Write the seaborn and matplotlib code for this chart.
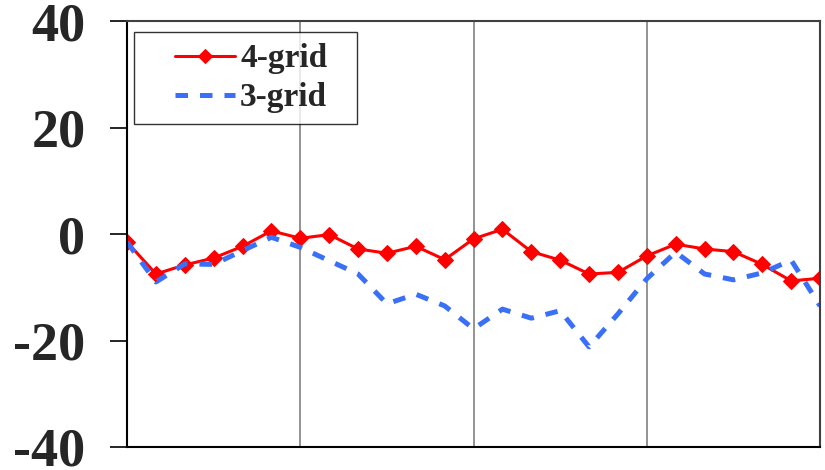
import numpy as np
import pandas as pd
import matplotlib
matplotlib.use("Agg")
import matplotlib.pyplot as plt
from matplotlib.legend_handler import HandlerLine2D
import seaborn as sns

x_index = list(range(25))
grid4 = [-1.5, -7.5, -5.8, -4.5, -2.3, 0.6, -0.8, -0.1, -2.8, -3.6, -2.3, -4.8,
         -0.9, 0.9, -3.3, -4.9, -7.5, -7.2, -4.1, -1.9, -2.8, -3.3, -5.7, -8.8, -8.3]
grid3 = [-1.5, -9.0, -5.6, -5.7, -3.1, -0.6, -2.5, -5.0, -7.5, -13.1, -11.3, -13.5,
         -17.8, -14.1, -15.8, -14.4, -21.2, -15.0, -8.4, -3.4, -7.5, -8.6, -7.3, -4.9, -13.5]
y_ticks = [-40, -20, 0, 20, 40]
x_grid = [0, 6, 12, 18, 24]

sns.set_theme(style="white")
plt.rcParams['font.family'] = ['Liberation Serif', 'DejaVu Serif']
plt.rcParams['axes.unicode_minus'] = False


class ShiftedLineHandler(HandlerLine2D):
    """Draw the legend sample only in the right part of the handle box."""
    frac = 0.33

    def create_artists(self, legend, orig_handle, xdescent, ydescent, width, height,
                       fontsize, trans):
        artists = super().create_artists(legend, orig_handle, xdescent, ydescent, width,
                                         height, fontsize, trans)
        for a in artists:
            xd = np.asarray(a.get_xdata(), dtype=float)
            a.set_xdata(self.frac * width + (1 - self.frac) * xd)
        return artists


df = pd.DataFrame({"x": x_index, "4-grid": grid4, "3-grid": grid3})

fig = plt.figure(figsize=(8.25, 4.7), dpi=100)
ax = fig.add_axes([0.154, 0.049, 0.840, 0.906])

sns.lineplot(data=df, x="x", y="4-grid", ax=ax, color="#ff0000", linewidth=2.2,
             marker="D", markersize=8, markeredgecolor="#ff0000", label="4-grid")
sns.lineplot(data=df, x="x", y="3-grid", ax=ax, color="#3a6ff7", linewidth=3.6,
             linestyle=(0, (2.5, 2.4)), label="3-grid")

ax.set_xlim(0, 24)
ax.set_ylim(-40, 40)
ax.set_yticks(y_ticks)
ax.set_yticklabels([str(v) for v in y_ticks], fontsize=39, fontweight="bold")
ax.set_xticks(x_grid)
ax.set_xticklabels([])
ax.tick_params(axis="x", length=0)
ax.tick_params(axis="y", direction="out", length=12, width=1.2, color="black", left=True, pad=18)
ax.set_xlabel("")
ax.set_ylabel("")
for xv in x_grid[1:-1]:
    ax.axvline(xv, color="#808080", linewidth=1.2, zorder=0)
for s in ["left", "bottom"]:
    ax.spines[s].set_color("black")
    ax.spines[s].set_linewidth(1.5)
for s in ["top", "right"]:
    ax.spines[s].set_color("#404040")
    ax.spines[s].set_linewidth(1.5)

handles, labels = ax.get_legend_handles_labels()
leg = ax.legend(handles, labels, loc="upper left", bbox_to_anchor=(0.0101, 0.5, 0.322, 0.474),
                mode="expand", frameon=True, fancybox=False,
                prop={"size": 24, "weight": "bold"}, handlelength=2.7, handletextpad=0.15,
                borderpad=0.33, labelspacing=0.24, borderaxespad=0,
                handler_map={h: ShiftedLineHandler() for h in handles})
leg.get_frame().set_edgecolor("black")
leg.get_frame().set_linewidth(1.0)
leg.legend_handles[0].set_markersize(7)

fig.savefig("out.png", dpi=100)
